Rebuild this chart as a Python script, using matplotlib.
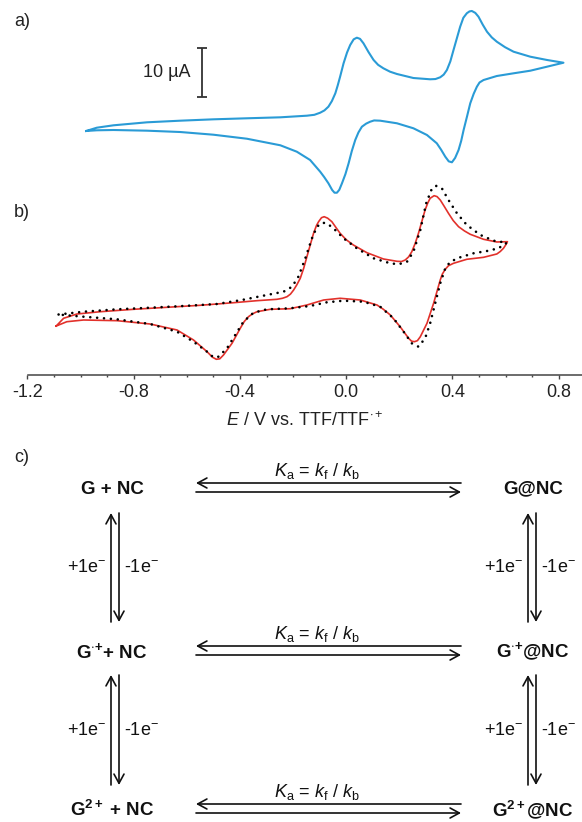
import matplotlib
matplotlib.use("Agg")
import matplotlib.pyplot as plt
from matplotlib.ticker import MultipleLocator, FormatStrFormatter

plt.rcParams['font.family'] = ['Liberation Sans', 'DejaVu Sans']
plt.rcParams['mathtext.fontset'] = 'custom'
plt.rcParams['mathtext.rm'] = 'Liberation Sans'
plt.rcParams['mathtext.it'] = 'Liberation Sans:italic'
plt.rcParams['mathtext.bf'] = 'Liberation Sans:bold'
plt.rcParams['axes.unicode_minus'] = False
plt.rcParams['font.size'] = 13

# a) CV of G alone (E in V vs TTF/TTF.+, I in uA); upper branch, then lower branch back
blue_E = [-0.979, -0.939, -0.876, -0.750, -0.625, -0.500, -0.374, -0.248, -0.148, -0.120,
          -0.098, -0.082, -0.067, -0.054, -0.041, -0.032, -0.023, -0.010, 0.003, 0.015,
          0.028, 0.040, 0.052, 0.065, 0.084, 0.103, 0.120, 0.140, 0.165, 0.191,
          0.253, 0.316, 0.336, 0.354, 0.367, 0.379, 0.392, 0.404, 0.417, 0.429,
          0.441, 0.454, 0.464, 0.473, 0.486, 0.498, 0.514, 0.530, 0.548, 0.567,
          0.598, 0.630, 0.693, 0.756, 0.818,
          0.756, 0.693, 0.630, 0.567, 0.517, 0.502, 0.492, 0.480, 0.467, 0.455,
          0.442, 0.433, 0.423, 0.410, 0.398, 0.386, 0.373, 0.357, 0.341, 0.304,
          0.253, 0.191, 0.128, 0.105, 0.090, 0.075, 0.059, 0.046, 0.034, 0.021,
          0.009, -0.003, -0.016, -0.026, -0.035, -0.044, -0.053, -0.067, -0.083, -0.098,
          -0.136, -0.186, -0.248, -0.374, -0.500, -0.625, -0.750, -0.876, -0.939, -0.979]
blue_I = [-0.20, 0.47, 0.96, 1.57, 1.90, 2.18, 2.39, 2.59, 2.92, 3.10,
          3.53, 4.00, 4.76, 5.90, 7.49, 9.10, 10.88, 13.61, 15.80, 17.35,
          18.50, 18.84, 18.60, 17.69, 15.90, 14.29, 13.30, 12.59, 11.90, 11.43,
          10.61, 10.35, 10.40, 10.76, 11.30, 12.24, 14.00, 16.33, 18.80, 21.08,
          22.90, 23.82, 24.20, 24.29, 23.90, 23.12, 21.50, 20.06, 18.90, 18.02,
          16.90, 15.98, 14.96, 14.29, 13.73,
          12.92, 12.10, 11.57, 11.02, 10.20, 9.70, 8.84, 7.40, 5.45, 2.80,
          0.00, -2.20, -4.08, -5.70, -6.59, -6.40, -5.45, -4.00, -2.71, -1.02,
          0.35, 1.37, 1.90, 1.95, 1.69, 1.30, 0.67, -0.50, -2.04, -4.30,
          -6.80, -9.00, -10.88, -12.20, -12.80, -12.80, -12.24, -10.88, -9.60, -8.51,
          -6.12, -4.43, -3.12, -1.78, -0.96, -0.41, -0.14, 0.00, -0.06, -0.20]

# b) experimental CV with NC (red)
red_E = [-1.092, -1.064, -1.014, -0.926, -0.801, -0.675, -0.550, -0.424, -0.336, -0.261,
         -0.240, -0.223, -0.210, -0.198, -0.186, -0.173, -0.160, -0.148, -0.123, -0.112,
         -0.104, -0.093, -0.083, -0.070, -0.054, -0.040, -0.023, 0.000, 0.027, 0.078,
         0.140, 0.191, 0.208, 0.222, 0.235, 0.247, 0.260, 0.272, 0.297, 0.307,
         0.316, 0.331, 0.342, 0.354, 0.368, 0.385, 0.403, 0.423, 0.445, 0.467,
         0.517, 0.567, 0.607,
         0.600, 0.592, 0.580, 0.567, 0.517, 0.454, 0.404, 0.385, 0.373, 0.362,
         0.354, 0.329, 0.304, 0.279, 0.268, 0.257, 0.246, 0.235, 0.203, 0.166,
         0.140, 0.116, 0.053, -0.023, -0.085, -0.148, -0.211, -0.286, -0.336, -0.352,
         -0.368, -0.384, -0.399, -0.430, -0.462, -0.476, -0.489, -0.503, -0.524, -0.575,
         -0.637, -0.738, -0.863, -0.989, -1.052, -1.092]
red_I = [-5.31, -3.73, -2.86, -2.39, -1.90, -1.49, -1.08, -0.55, -0.14, 0.14,
         0.35, 0.67, 1.20, 2.04, 3.10, 4.43, 6.50, 8.84, 13.61, 15.20,
         15.98, 16.80, 17.00, 16.70, 15.98, 14.90, 13.61, 12.30, 11.22, 9.65,
         8.37, 7.90, 7.85, 8.16, 8.80, 9.86, 11.60, 13.61, 18.37, 19.80,
         20.76, 21.29, 21.10, 20.41, 19.20, 17.69, 16.20, 14.96, 14.10, 13.41,
         12.39, 11.84, 11.90,
         11.20, 10.55, 9.90, 9.39, 8.71, 8.31, 7.49, 7.00, 6.27, 5.30,
         4.08, -0.67, -4.76, -7.49, -8.30, -8.51, -8.40, -7.82, -5.45, -3.06,
         -1.90, -1.02, 0.00, 0.35, 0.00, -1.02, -1.78, -1.90, -2.39, -2.80,
         -3.41, -4.40, -5.78, -8.84, -11.22, -12.00, -12.10, -11.70, -10.55, -8.16,
         -6.12, -4.90, -4.22, -4.08, -4.43, -5.31]

# b) simulated CV (black dots)
sim_E = [-1.083, -0.989, -0.863, -0.738, -0.613, -0.487, -0.393, -0.299, -0.236, -0.204,
         -0.180, -0.154, -0.129, -0.110, -0.091, -0.073, -0.048, -0.010, 0.040, 0.103,
         0.166, 0.197, 0.229, 0.253, 0.279, 0.301, 0.323, 0.339, 0.360, 0.385,
         0.417, 0.454, 0.505, 0.555, 0.605,
         0.573, 0.530, 0.479, 0.429, 0.392, 0.373, 0.354, 0.335, 0.316, 0.297,
         0.272, 0.247, 0.216, 0.178, 0.128, 0.065, -0.010, -0.073, -0.136, -0.211,
         -0.299, -0.349, -0.387, -0.418, -0.449, -0.481, -0.500, -0.524, -0.575, -0.637,
         -0.738, -0.863, -0.989, -1.064, -1.083]
sim_I = [-2.96, -2.39, -1.90, -1.57, -1.22, -0.82, 0.00, 1.02, 1.69, 2.71,
         4.76, 8.51, 12.59, 14.96, 15.78, 15.65, 14.63, 12.59, 10.55, 8.51,
         7.49, 7.29, 7.82, 9.86, 14.29, 19.73, 22.80, 23.27, 22.80, 20.41,
         17.69, 15.31, 13.27, 12.10, 11.69,
         10.55, 10.00, 9.53, 8.71, 7.82, 6.47, 3.41, -0.67, -4.76, -7.82,
         -9.53, -8.84, -6.47, -3.73, -1.37, -0.35, -0.14, -0.47, -1.22, -1.69,
         -1.90, -2.59, -4.43, -7.14, -9.86, -11.57, -11.69, -10.55, -8.51, -6.47,
         -4.90, -3.94, -3.41, -3.06, -2.96]

scalebar_uA = 10
scalebar_label = "10 µA"
xlabel = r"$\mathit{E}$ / V vs. TTF/TTF$^{\cdot+}$"

# c) square scheme
left_species = ["G + NC", r"G$^{\cdot\mathbf{+}}$+ NC", r"G$^{\mathregular{2+}}$ + NC"]
right_species = ["G@NC", r"G$^{\cdot\mathbf{+}}$@NC", r"G$^{\mathregular{2+}}$@NC"]
eq_label = r"$K_{\mathrm{a}}$ = $k_{\mathrm{f}}$ / $k_{\mathrm{b}}$"
red_label = r"+1e$^{-}$"
ox_label = r"-1e$^{-}$"

W, H = 582, 822
fig = plt.figure(figsize=(W / 100, H / 100), dpi=100)

# CV axes: x axis line sits at y=375 px, 265.6 px per V, 4.9 px per uA
x0_px, axis_px = 27.5, 375.3
px_per_V, px_per_uA = 265.6, 4.9
ax = fig.add_axes([x0_px / W, 1 - axis_px / H, 1 - x0_px / W, axis_px / H])
ax.set_xlim(-1.2, -1.2 + (W - x0_px) / px_per_V)
ax.set_ylim((300 - axis_px) / px_per_uA, 300 / px_per_uA)
offset_a = (300 - 130) / px_per_uA  # shifts panel a above panel b

ax.plot(blue_E, [i + offset_a for i in blue_I], color="#2a9bd6", lw=1.5,
        solid_joinstyle="round", clip_on=False)
ax.plot(red_E, red_I, color="#e2312b", lw=1.2, solid_joinstyle="round", zorder=3)
ax.plot(sim_E, sim_I, color="black", lw=1.9, linestyle=(0, (0.01, 2.6)),
        dash_capstyle="round", zorder=4)

# 10 uA scale bar
ax.errorbar([-0.542], [46.5], yerr=scalebar_uA / 2, fmt="none", ecolor="#333333",
            elinewidth=1.3, capsize=3.6, capthick=1.3)
ax.text(-0.585, 46.5, scalebar_label, ha="right", va="center", fontsize=13, color="#222222")

for s in ["top", "right", "left"]:
    ax.spines[s].set_visible(False)
ax.spines["bottom"].set_color("#444444")
ax.spines["bottom"].set_linewidth(1.1)
ax.patch.set_visible(False)
ax.set_yticks([])
ax.xaxis.set_major_locator(MultipleLocator(0.4))
ax.xaxis.set_minor_locator(MultipleLocator(0.1))
ax.xaxis.set_major_formatter(FormatStrFormatter("%.1f"))
ax.tick_params(axis="x", which="major", direction="out", length=3, width=1.0,
               color="#444444", pad=3, labelsize=13, labelcolor="#222222")
ax.tick_params(axis="x", which="minor", direction="out", length=1.6, width=1.0,
               color="#444444")
ax.set_xlabel(xlabel, fontsize=13, labelpad=8, color="#222222")

# overlay in pixel coordinates for labels and scheme
ov = fig.add_axes([0, 0, 1, 1])
ov.set_xlim(0, W)
ov.set_ylim(H, 0)
ov.axis("off")

for lab, y in [("a)", 22), ("b)", 212), ("c)", 457)]:
    ov.text(14, y, lab, fontsize=13, va="center", ha="left", color="#222222")

row_y = [489, 652, 810]
left_x, right_x = 112, 533
arr_l, arr_r = 196, 461
head = dict(arrowstyle="->,head_length=0.55,head_width=0.3", lw=1.2,
            color="#111111", shrinkA=0, shrinkB=0, mutation_scale=12)

for i, y in enumerate(row_y):
    ov.text(left_x, y, left_species[i], ha="center", va="center", fontsize=13.5,
            fontweight="bold", color="#111111")
    ov.text(right_x, y, right_species[i], ha="center", va="center", fontsize=13.5,
            fontweight="bold", color="#111111")
    ov.text(317, y - 18, eq_label, ha="center", va="center", fontsize=13, color="#111111")
    ov.annotate("", xy=(arr_l, y - 6), xytext=(arr_r, y - 6), arrowprops=head)
    ov.annotate("", xy=(arr_r, y + 3), xytext=(arr_l, y + 3), arrowprops=head)

for top, bot in [(row_y[0] + 24, row_y[1] - 30), (row_y[1] + 23, row_y[2] - 25)]:
    mid = (top + bot) / 2
    for xu, xd in [(111, 119), (528, 536)]:
        ov.annotate("", xy=(xu, top), xytext=(xu, bot), arrowprops=head)
        ov.annotate("", xy=(xd, bot), xytext=(xd, top), arrowprops=head)
        ov.text(xu - 5, mid, red_label, ha="right", va="center", fontsize=13, color="#111111")
        ov.text(xd + 5, mid, ox_label, ha="left", va="center", fontsize=13, color="#111111")

fig.savefig("out.png", dpi=100)
